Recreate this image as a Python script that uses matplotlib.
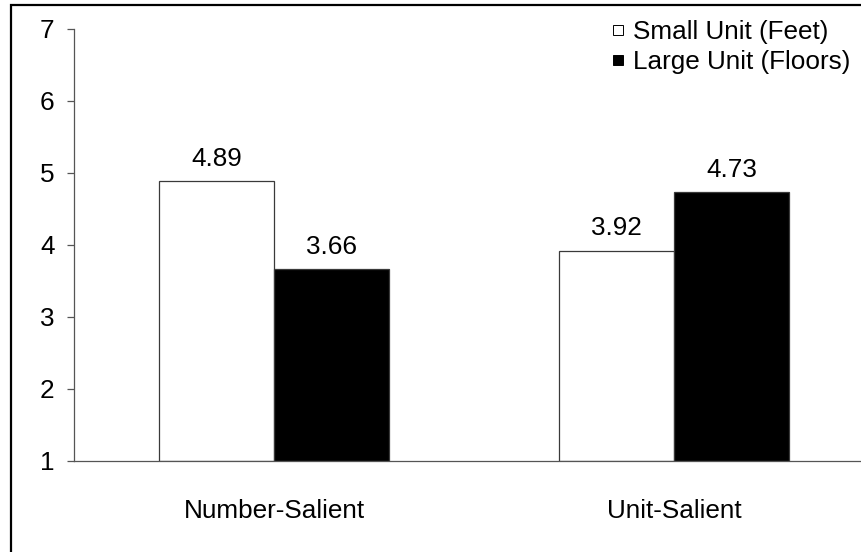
import matplotlib
matplotlib.use('Agg')
import matplotlib.pyplot as plt
from matplotlib.lines import Line2D
from matplotlib.patches import Rectangle

plt.rcParams['font.family'] = ['Liberation Sans', 'DejaVu Sans']

categories = ['Number-Salient', 'Unit-Salient']
small_unit = [4.89, 3.92]
large_unit = [3.66, 4.73]
series_names = ['Small Unit (Feet)', 'Large Unit (Floors)']
y_ticks = [1, 2, 3, 4, 5, 6, 7]

W, H = 861, 552
FS = 18.8
fig = plt.figure(figsize=(W / 100, H / 100), dpi=100)

# plot area runs past the right edge of the image
ax = fig.add_axes([74 / W, (H - 461) / H, 800 / W, 432 / H])

bw = 0.2875
xs = range(len(categories))
edge = '#3a3a3a'
b1 = ax.bar([x - bw / 2 for x in xs], [v - 1 for v in small_unit], bw, bottom=1,
            color='white', edgecolor=edge, linewidth=0.9)
b2 = ax.bar([x + bw / 2 for x in xs], [v - 1 for v in large_unit], bw, bottom=1,
            color='black', edgecolor=edge, linewidth=0.9)

for bars, vals in ((b1, small_unit), (b2, large_unit)):
    for rect, v in zip(bars, vals):
        ax.annotate(f'{v:.2f}', (rect.get_x() + rect.get_width() / 2, v),
                    xytext=(0, 11), textcoords='offset points',
                    ha='center', va='baseline', fontsize=FS)

ax.set_xlim(-0.5, 1.5)
ax.set_ylim(1, 7)
ax.set_yticks(y_ticks)
ax.set_xticks(list(xs))
ax.set_xticklabels(categories)
ax.tick_params(axis='x', length=0, pad=27.5, labelsize=FS)
ax.tick_params(axis='y', length=5, width=0.9, color='#555555', pad=9, labelsize=FS)

for side in ('top', 'right'):
    ax.spines[side].set_visible(False)
for side in ('left', 'bottom'):
    ax.spines[side].set_color('#555555')
    ax.spines[side].set_linewidth(0.9)

handles = [Line2D([], [], linestyle='none', marker='s', markersize=6.5,
                  markerfacecolor='white', markeredgecolor='black', markeredgewidth=0.7),
           Line2D([], [], linestyle='none', marker='s', markersize=6.5,
                  markerfacecolor='black', markeredgecolor='black', markeredgewidth=0.7)]
fig.legend(handles, series_names, loc='upper left',
           bbox_to_anchor=(613 / W, 1 - 20 / H), frameon=False,
           fontsize=FS, handlelength=0.35, handletextpad=0.42,
           borderpad=0, borderaxespad=0, labelspacing=0.22)

# outer chart border (right and bottom fall outside the image)
fig.patches.append(Rectangle((10.5 / W, -0.1), 1.2, 1.1 - 5.3 / H,
                             transform=fig.transFigure, fill=False,
                             edgecolor='black', linewidth=1.6))

fig.savefig('out.png', dpi=100)
